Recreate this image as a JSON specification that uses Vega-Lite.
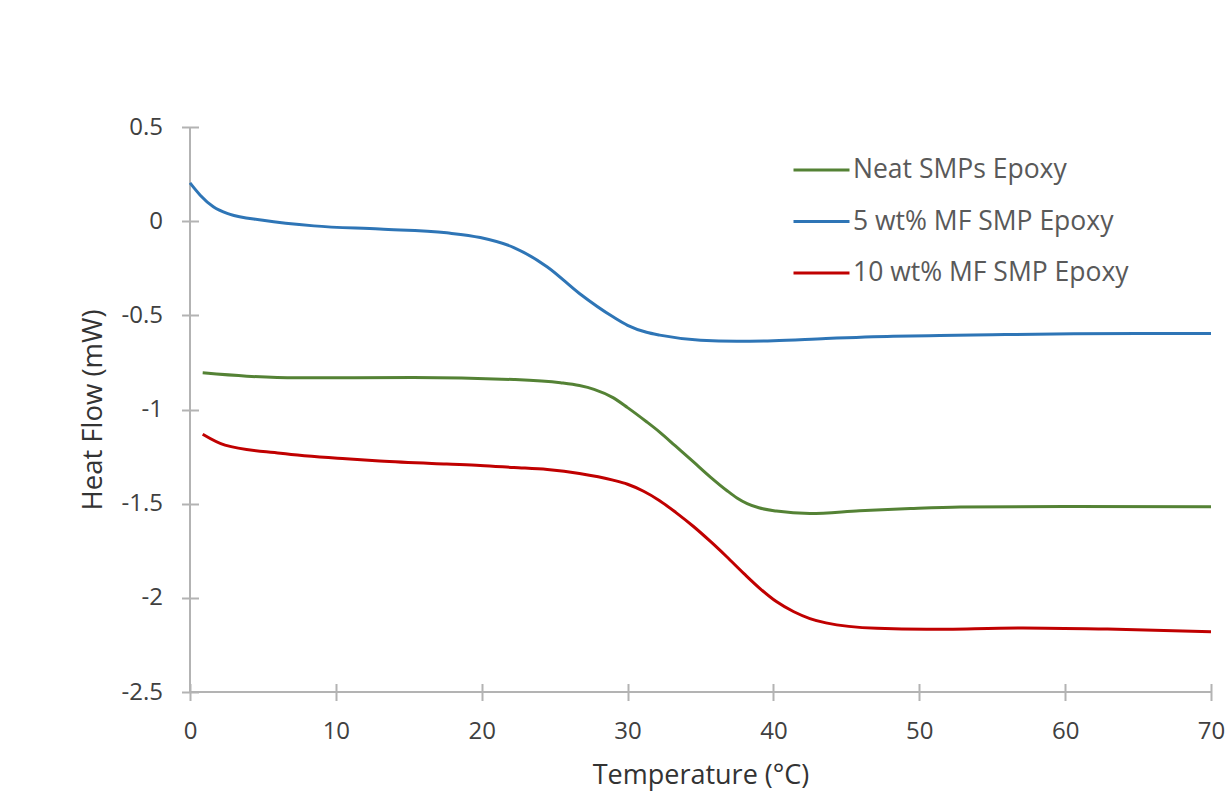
{
  "$schema": "https://vega.github.io/schema/vega-lite/v6.json",
  "autosize": {"type": "none"},
  "width": 1021,
  "height": 565,
  "padding": {"left": 190, "top": 127, "right": 20, "bottom": 120},
  "background": "white",
  "config": {"view": {"stroke": null}, "font": "Open Sans"},
  "data": {"values": [
    {"s": "5 wt% MF SMP Epoxy", "t": 0, "v": 0.203},
    {"s": "5 wt% MF SMP Epoxy", "t": 0.7, "v": 0.138},
    {"s": "5 wt% MF SMP Epoxy", "t": 1.6, "v": 0.076},
    {"s": "5 wt% MF SMP Epoxy", "t": 2.7, "v": 0.037},
    {"s": "5 wt% MF SMP Epoxy", "t": 5, "v": 0.005},
    {"s": "5 wt% MF SMP Epoxy", "t": 8.5, "v": -0.025},
    {"s": "5 wt% MF SMP Epoxy", "t": 13, "v": -0.042},
    {"s": "5 wt% MF SMP Epoxy", "t": 17.6, "v": -0.062},
    {"s": "5 wt% MF SMP Epoxy", "t": 19.9, "v": -0.087},
    {"s": "5 wt% MF SMP Epoxy", "t": 22.2, "v": -0.14},
    {"s": "5 wt% MF SMP Epoxy", "t": 24.5, "v": -0.243},
    {"s": "5 wt% MF SMP Epoxy", "t": 26.7, "v": -0.384},
    {"s": "5 wt% MF SMP Epoxy", "t": 29, "v": -0.508},
    {"s": "5 wt% MF SMP Epoxy", "t": 30, "v": -0.553},
    {"s": "5 wt% MF SMP Epoxy", "t": 31.3, "v": -0.59},
    {"s": "5 wt% MF SMP Epoxy", "t": 32.2, "v": -0.605},
    {"s": "5 wt% MF SMP Epoxy", "t": 35, "v": -0.632},
    {"s": "5 wt% MF SMP Epoxy", "t": 37.5, "v": -0.638},
    {"s": "5 wt% MF SMP Epoxy", "t": 40, "v": -0.635},
    {"s": "5 wt% MF SMP Epoxy", "t": 43.6, "v": -0.623},
    {"s": "5 wt% MF SMP Epoxy", "t": 48.2, "v": -0.611},
    {"s": "5 wt% MF SMP Epoxy", "t": 51.4, "v": -0.607},
    {"s": "5 wt% MF SMP Epoxy", "t": 55, "v": -0.603},
    {"s": "5 wt% MF SMP Epoxy", "t": 60.6, "v": -0.598},
    {"s": "5 wt% MF SMP Epoxy", "t": 65, "v": -0.597},
    {"s": "5 wt% MF SMP Epoxy", "t": 70, "v": -0.597},
    {"s": "Neat SMPs Epoxy", "t": 0.87, "v": -0.805},
    {"s": "Neat SMPs Epoxy", "t": 3.9, "v": -0.823},
    {"s": "Neat SMPs Epoxy", "t": 7.3, "v": -0.832},
    {"s": "Neat SMPs Epoxy", "t": 15.3, "v": -0.83},
    {"s": "Neat SMPs Epoxy", "t": 22.2, "v": -0.841},
    {"s": "Neat SMPs Epoxy", "t": 25.4, "v": -0.858},
    {"s": "Neat SMPs Epoxy", "t": 26.7, "v": -0.873},
    {"s": "Neat SMPs Epoxy", "t": 27.7, "v": -0.893},
    {"s": "Neat SMPs Epoxy", "t": 29, "v": -0.937},
    {"s": "Neat SMPs Epoxy", "t": 30, "v": -0.99},
    {"s": "Neat SMPs Epoxy", "t": 31.3, "v": -1.065},
    {"s": "Neat SMPs Epoxy", "t": 32.2, "v": -1.12},
    {"s": "Neat SMPs Epoxy", "t": 33.3, "v": -1.195},
    {"s": "Neat SMPs Epoxy", "t": 34.5, "v": -1.277},
    {"s": "Neat SMPs Epoxy", "t": 35.7, "v": -1.36},
    {"s": "Neat SMPs Epoxy", "t": 36.8, "v": -1.43},
    {"s": "Neat SMPs Epoxy", "t": 37.5, "v": -1.47},
    {"s": "Neat SMPs Epoxy", "t": 38.2, "v": -1.5},
    {"s": "Neat SMPs Epoxy", "t": 39, "v": -1.522},
    {"s": "Neat SMPs Epoxy", "t": 40.2, "v": -1.539},
    {"s": "Neat SMPs Epoxy", "t": 42.5, "v": -1.552},
    {"s": "Neat SMPs Epoxy", "t": 45.9, "v": -1.538},
    {"s": "Neat SMPs Epoxy", "t": 49.4, "v": -1.526},
    {"s": "Neat SMPs Epoxy", "t": 52.8, "v": -1.518},
    {"s": "Neat SMPs Epoxy", "t": 60, "v": -1.515},
    {"s": "Neat SMPs Epoxy", "t": 70, "v": -1.517},
    {"s": "10 wt% MF SMP Epoxy", "t": 0.87, "v": -1.131},
    {"s": "10 wt% MF SMP Epoxy", "t": 2.4, "v": -1.189},
    {"s": "10 wt% MF SMP Epoxy", "t": 6.2, "v": -1.232},
    {"s": "10 wt% MF SMP Epoxy", "t": 10.7, "v": -1.262},
    {"s": "10 wt% MF SMP Epoxy", "t": 13, "v": -1.274},
    {"s": "10 wt% MF SMP Epoxy", "t": 17.6, "v": -1.29},
    {"s": "10 wt% MF SMP Epoxy", "t": 19.9, "v": -1.297},
    {"s": "10 wt% MF SMP Epoxy", "t": 22.2, "v": -1.308},
    {"s": "10 wt% MF SMP Epoxy", "t": 24.5, "v": -1.319},
    {"s": "10 wt% MF SMP Epoxy", "t": 26.7, "v": -1.34},
    {"s": "10 wt% MF SMP Epoxy", "t": 29, "v": -1.375},
    {"s": "10 wt% MF SMP Epoxy", "t": 30, "v": -1.397},
    {"s": "10 wt% MF SMP Epoxy", "t": 31.1, "v": -1.434},
    {"s": "10 wt% MF SMP Epoxy", "t": 32.2, "v": -1.484},
    {"s": "10 wt% MF SMP Epoxy", "t": 33.3, "v": -1.546},
    {"s": "10 wt% MF SMP Epoxy", "t": 34.5, "v": -1.62},
    {"s": "10 wt% MF SMP Epoxy", "t": 35.7, "v": -1.702},
    {"s": "10 wt% MF SMP Epoxy", "t": 36.8, "v": -1.782},
    {"s": "10 wt% MF SMP Epoxy", "t": 38, "v": -1.873},
    {"s": "10 wt% MF SMP Epoxy", "t": 39.1, "v": -1.952},
    {"s": "10 wt% MF SMP Epoxy", "t": 40.2, "v": -2.02},
    {"s": "10 wt% MF SMP Epoxy", "t": 41.4, "v": -2.074},
    {"s": "10 wt% MF SMP Epoxy", "t": 42.5, "v": -2.11},
    {"s": "10 wt% MF SMP Epoxy", "t": 43.6, "v": -2.133},
    {"s": "10 wt% MF SMP Epoxy", "t": 47.1, "v": -2.162},
    {"s": "10 wt% MF SMP Epoxy", "t": 50.5, "v": -2.167},
    {"s": "10 wt% MF SMP Epoxy", "t": 57.1, "v": -2.16},
    {"s": "10 wt% MF SMP Epoxy", "t": 62.9, "v": -2.166},
    {"s": "10 wt% MF SMP Epoxy", "t": 70, "v": -2.18}
  ]},
  "layer": [
    {
      "mark": {"type": "rule", "color": "#b3b3b3", "strokeWidth": 2},
      "encoding": {"x": {"datum": 0, "type": "quantitative"}}
    },
    {
      "mark": {"type": "rule", "color": "#b3b3b3", "strokeWidth": 2},
      "encoding": {"y": {"datum": -2.5, "type": "quantitative"}}
    },
    {
      "mark": {"type": "line", "strokeWidth": 3, "interpolate": "monotone"},
      "encoding": {
        "x": {
          "field": "t", "type": "quantitative",
          "scale": {"domain": [0, 70], "nice": false, "zero": false},
          "axis": {
            "values": [0, 10, 20, 30, 40, 50, 60, 70],
            "labelExpr": "'' + datum.value",
            "domain": false, "grid": false, "labelFlush": false,
            "offset": -8.5, "tickSize": 17, "tickWidth": 2, "tickColor": "#b3b3b3",
            "labelPadding": 19, "labelFontSize": 24, "labelColor": "#404040",
            "title": "Temperature (°C)", "titleFontSize": 27, "titleFontWeight": "normal",
            "titleColor": "#333333", "titleBaseline": "alphabetic", "titleY": 99.5
          }
        },
        "y": {
          "field": "v", "type": "quantitative",
          "scale": {"domain": [-2.5, 0.5], "nice": false, "zero": false},
          "axis": {
            "values": [0.5, 0, -0.5, -1, -1.5, -2, -2.5],
            "labelExpr": "'' + datum.value",
            "domain": false, "grid": false, "labelFlush": false,
            "offset": -8.5, "tickSize": 17, "tickWidth": 2, "tickColor": "#b3b3b3",
            "labelPadding": 19, "labelFontSize": 24, "labelColor": "#404040",
            "title": "Heat Flow (mW)", "titleFontSize": 27.5, "titleFontWeight": "normal",
            "titleColor": "#333333", "titleBaseline": "alphabetic", "titleX": -96.8
          }
        },
        "color": {
          "field": "s", "type": "nominal",
          "scale": {
            "domain": ["Neat SMPs Epoxy", "5 wt% MF SMP Epoxy", "10 wt% MF SMP Epoxy"],
            "range": ["#548235", "#2e75b6", "#c00000"]
          },
          "legend": {
            "orient": "none", "legendX": 602, "legendY": 13.5, "title": null,
            "symbolType": "stroke", "symbolSize": 3136, "symbolStrokeWidth": 3,
            "labelFontSize": 26.5, "labelColor": "#595959", "labelOffset": 2,
            "labelLimit": 0, "rowPadding": 8.5, "padding": 0
          }
        }
      }
    }
  ]
}
